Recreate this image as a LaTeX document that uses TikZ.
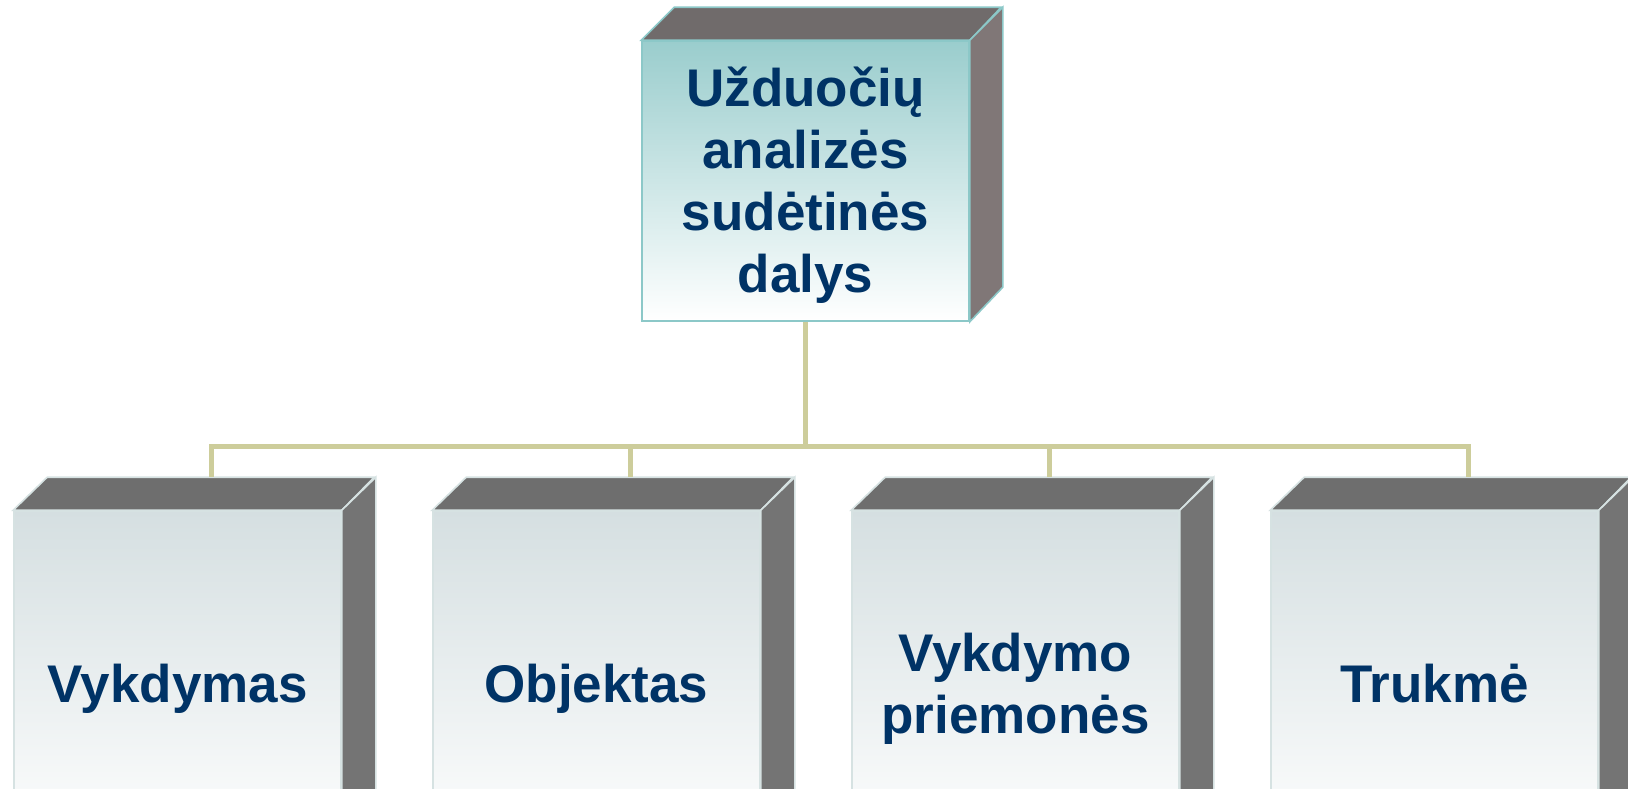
\documentclass[tikz,border=0pt]{standalone}
\usepackage{fontspec}
\setmainfont{Liberation Sans}
\usepackage{tikz}
\usetikzlibrary{calc}
\definecolor{textblue}{RGB}{0,51,102}
\definecolor{tealtop}{RGB}{154,205,205}
\definecolor{tealline}{RGB}{140,200,200}
\definecolor{greytop}{RGB}{213,223,225}
\definecolor{greyline}{RGB}{214,226,226}
\definecolor{linkcol}{RGB}{205,205,155}

\begin{document}
\begin{tikzpicture}[x=0.5pt,y=-0.5pt]
		\tikzset{box/.style={shape = rectangle, inner sep = 0pt, align = center, text = textblue,
				font = \bfseries\fontsize{26.5}{31}\selectfont, text height = 24pt, text depth = 6pt,
				minimum width = 163.5pt, line width = 0.8pt}}
		\tikzset{twolines/.style={text height = 55pt}}
		\tikzset{headbox/.style={box, text height = 117pt, draw = tealline, top color = tealtop, bottom color = white, minimum height = 140pt}}
		\tikzset{partbox/.style={box, draw = greyline, top color = greytop, middle color = greytop!30!white, bottom color = white, minimum height = 173.5pt}}
		\tikzset{headlid/.style={fill = {rgb,255:red,112;green,107;blue,107}, draw = tealline, line width = 0.8pt}}
		\tikzset{headside/.style={fill = {rgb,255:red,128;green,119;blue,119}, draw = tealline, line width = 0.8pt}}
		\tikzset{partlid/.style={fill = {rgb,255:red,110;green,110;blue,110}, draw = greyline, line width = 0.8pt}}
		\tikzset{partside/.style={fill = {rgb,255:red,116;green,116;blue,116}, draw = greyline, line width = 0.8pt}}
		\tikzset{link/.style={draw = linkcol, line width = 2.5pt}}
					\clip[use as bounding box] (0,0) rectangle (1628,788);
					%boxes
					\node[headbox] (head) at (805.5, 181) {Užduočių\\analizės\\sudėtinės\\dalys};
					\node[partbox] (p1) at (177.5, 684.5) {Vykdymas};
					\node[partbox] (p2) at (596.5, 684.5) {Objektas};
					\node[partbox, twolines] (p3) at (1015.5, 684.5) {Vykdymo\\priemonės};
					\node[partbox] (p4) at (1434.5, 684.5) {Trukmė};
					%depth
					\path[headlid] (head.north west) -- ++(33,-33) -- ++(327,0) -- (head.north east) -- cycle;
					\path[headside] (head.north east) -- ++(33,-33) -- ++(0,280) -- (head.south east) -- cycle;
					\foreach \p in {p1,p2,p3,p4}{
						\path[partlid] (\p.north west) -- ++(34,-33) -- ++(327,0) -- (\p.north east) -- cycle;
						\path[partside] (\p.north east) -- ++(34,-33) -- ++(0,347) -- (\p.south east) -- cycle;
						\coordinate (\p top) at ($(\p.north)+(34,-33)$);
					}
					%edges
					\coordinate (hub) at (805.5, 446);
					\path[link] (head.south) -- (hub);
					\foreach \p in {p1,p2,p3,p4}
						\path[link] (hub) -| (\p top);
					
\end{tikzpicture}
\end{document}
